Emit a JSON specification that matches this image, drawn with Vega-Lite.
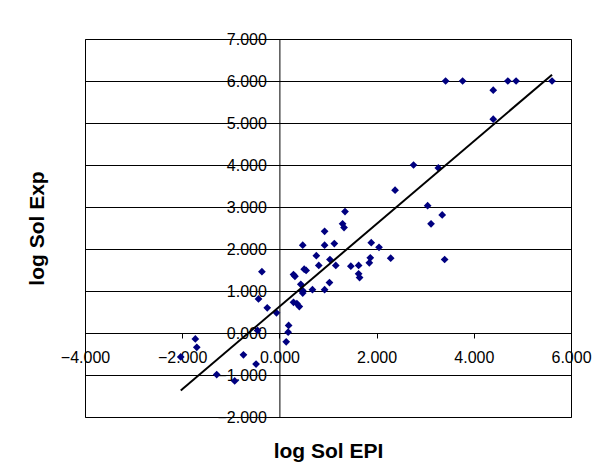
{
  "$schema": "https://vega.github.io/schema/vega-lite/v6.json",
  "width": 486,
  "height": 378,
  "autosize": "none",
  "padding": {"left": 85, "top": 39, "right": 34, "bottom": 59},
  "background": "white",
  "config": {"view": {"stroke": "#000", "strokeWidth": 1}, "font": "Liberation Sans"},
  "layer": [
    {
      "data": {"values": [
        {"epi": -2.03, "exp": -0.57}, {"epi": -1.73, "exp": -0.14}, {"epi": -1.70, "exp": -0.34},
        {"epi": -1.29, "exp": -0.99}, {"epi": -0.92, "exp": -1.14}, {"epi": -0.74, "exp": -0.52},
        {"epi": -0.48, "exp": -0.74}, {"epi": -0.45, "exp": 0.06}, {"epi": -0.43, "exp": 0.81},
        {"epi": -0.36, "exp": 1.46}, {"epi": -0.25, "exp": 0.60}, {"epi": -0.06, "exp": 0.48},
        {"epi": 0.14, "exp": -0.21}, {"epi": 0.19, "exp": 0.18}, {"epi": 0.18, "exp": 0.02},
        {"epi": 0.29, "exp": 1.39}, {"epi": 0.32, "exp": 1.35}, {"epi": 0.29, "exp": 0.73},
        {"epi": 0.36, "exp": 0.70}, {"epi": 0.41, "exp": 0.63}, {"epi": 0.44, "exp": 1.16},
        {"epi": 0.48, "exp": 2.09}, {"epi": 0.51, "exp": 1.52}, {"epi": 0.55, "exp": 1.49},
        {"epi": 0.48, "exp": 1.01}, {"epi": 0.48, "exp": 0.95}, {"epi": 0.68, "exp": 1.03},
        {"epi": 0.76, "exp": 1.84}, {"epi": 0.81, "exp": 1.61}, {"epi": 0.93, "exp": 2.42},
        {"epi": 0.93, "exp": 2.09}, {"epi": 0.93, "exp": 1.03}, {"epi": 1.03, "exp": 1.20},
        {"epi": 1.04, "exp": 1.75}, {"epi": 1.13, "exp": 2.13}, {"epi": 1.16, "exp": 1.61},
        {"epi": 1.30, "exp": 2.60}, {"epi": 1.33, "exp": 2.51}, {"epi": 1.35, "exp": 2.89},
        {"epi": 1.47, "exp": 1.59}, {"epi": 1.63, "exp": 1.61}, {"epi": 1.63, "exp": 1.41},
        {"epi": 1.65, "exp": 1.32}, {"epi": 1.85, "exp": 1.67}, {"epi": 1.87, "exp": 1.79},
        {"epi": 1.89, "exp": 2.15}, {"epi": 2.05, "exp": 2.04}, {"epi": 2.29, "exp": 1.78},
        {"epi": 2.38, "exp": 3.40}, {"epi": 2.76, "exp": 4.00}, {"epi": 3.05, "exp": 3.03},
        {"epi": 3.12, "exp": 2.60}, {"epi": 3.27, "exp": 3.93}, {"epi": 3.35, "exp": 2.81},
        {"epi": 3.40, "exp": 1.75}, {"epi": 3.42, "exp": 6.00}, {"epi": 3.77, "exp": 6.00},
        {"epi": 4.40, "exp": 5.78}, {"epi": 4.40, "exp": 5.09}, {"epi": 4.70, "exp": 6.00},
        {"epi": 4.87, "exp": 6.00}, {"epi": 5.61, "exp": 6.00}
      ]},
      "mark": {"type": "point", "shape": "diamond", "filled": true, "color": "#000080", "size": 60, "opacity": 1},
      "encoding": {
        "x": {
          "field": "epi", "type": "quantitative",
          "scale": {"domain": [-4, 6], "nice": false, "zero": false},
          "axis": {
            "title": "log Sol EPI", "values": [-4, -2, 0, 2, 4, 6], "format": ".3f",
            "grid": false, "offset": -84, "domainColor": "#000", "domainWidth": 1,
            "tickColor": "#000", "tickSize": 5, "tickWidth": 1,
            "labelFont": "Liberation Sans", "labelFontSize": 16, "labelColor": "#000",
            "labelPadding": 11, "labelFlush": false, "labelOverlap": false,
            "titleFont": "Liberation Sans", "titleFontSize": 21, "titleFontWeight": "bold",
            "titleColor": "#000", "titleY": 124, "titleBaseline": "alphabetic"
          }
        },
        "y": {
          "field": "exp", "type": "quantitative",
          "scale": {"domain": [-2, 7], "nice": false, "zero": false},
          "axis": {
            "title": "log Sol Exp", "values": [-2, -1, 0, 1, 2, 3, 4, 5, 6, 7], "format": ".3f",
            "grid": true, "gridColor": "#000", "gridWidth": 1, "gridOpacity": 1,
            "offset": -194.4, "domainColor": "#000", "domainWidth": 1,
            "tickColor": "#000", "tickSize": 5, "tickWidth": 1,
            "labelFont": "Liberation Sans", "labelFontSize": 16, "labelColor": "#000",
            "labelPadding": 8, "labelFlush": false, "labelOverlap": false,
            "titleFont": "Liberation Sans", "titleFontSize": 21, "titleFontWeight": "bold",
            "titleColor": "#000", "titleX": -236, "titleBaseline": "alphabetic", "titleAngle": -90
          }
        }
      }
    },
    {
      "data": {"values": [{"epi": -2.03, "exp": -1.37}, {"epi": 5.61, "exp": 6.15}]},
      "mark": {"type": "line", "color": "#000", "strokeWidth": 2},
      "encoding": {
        "x": {"field": "epi", "type": "quantitative"},
        "y": {"field": "exp", "type": "quantitative"}
      }
    }
  ]
}
